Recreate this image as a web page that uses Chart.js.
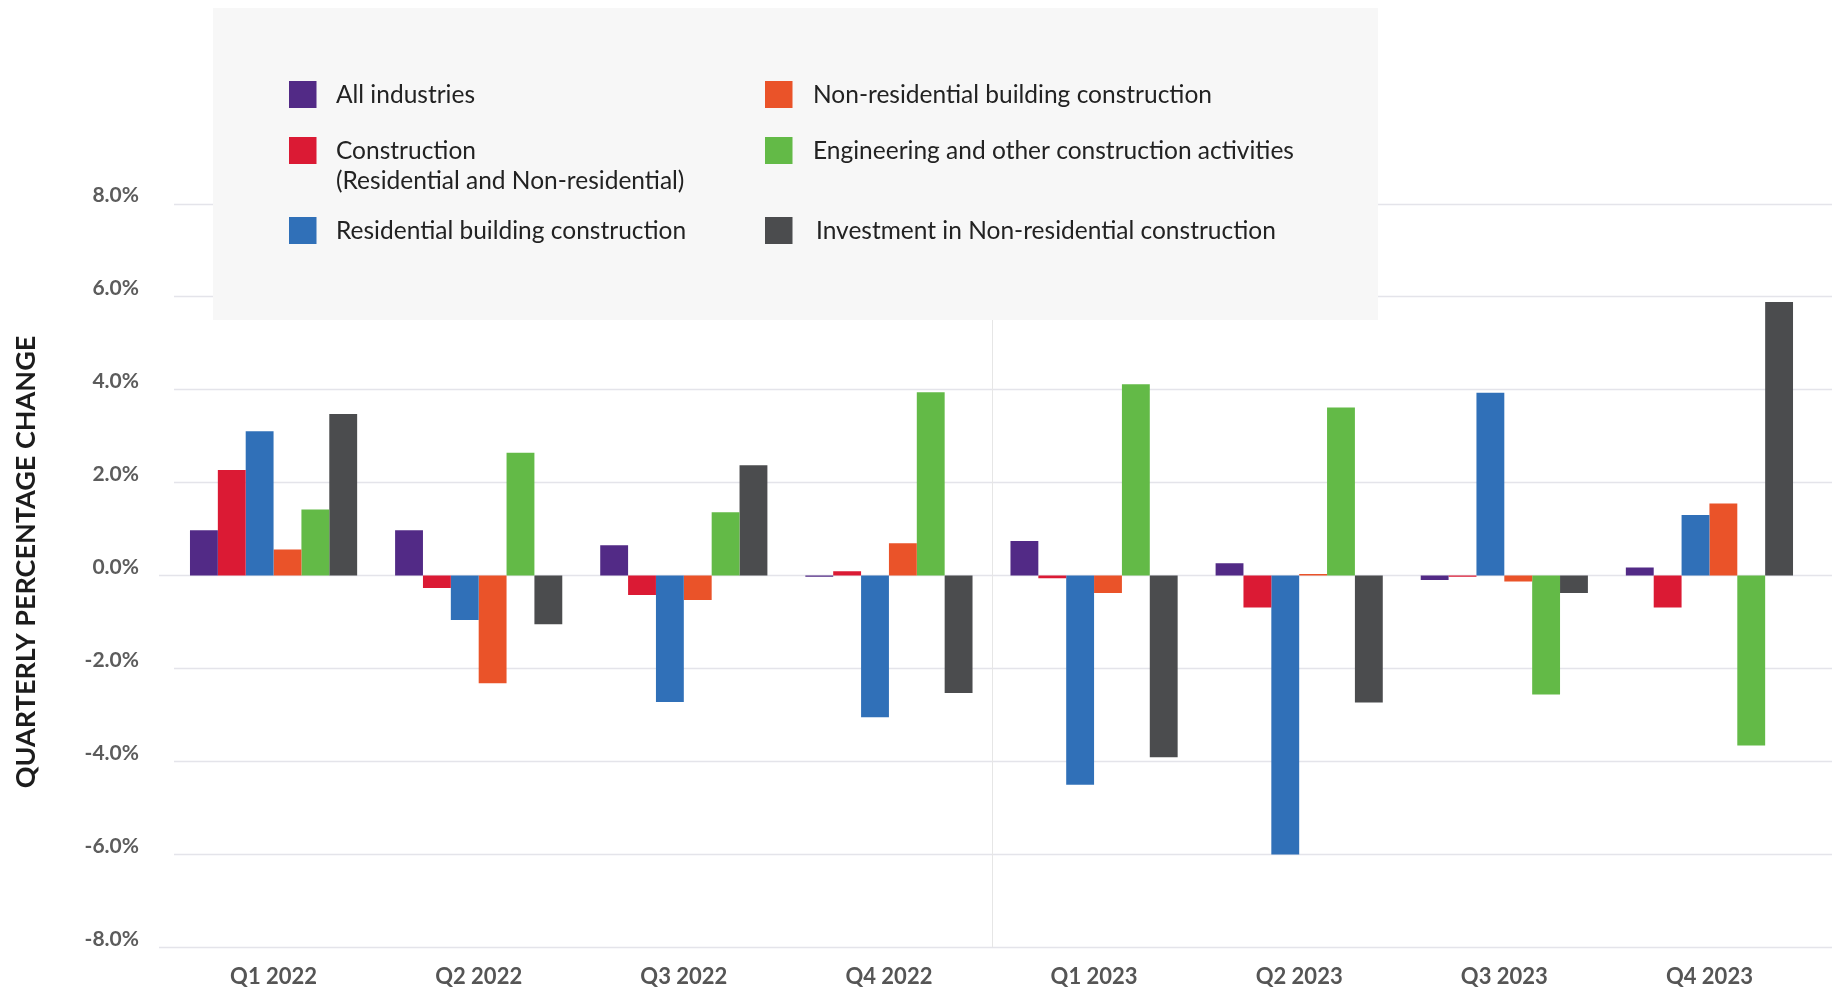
<!DOCTYPE html>
<html>
<head>
<meta charset="utf-8">
<script src="https://cdn.jsdelivr.net/npm/chart.js@4.4.0/dist/chart.umd.min.js"></script>
<style>
  html, body { margin: 0; padding: 0; background: #ffffff; }
  canvas { display: block; }
</style>
</head>
<body>
<canvas id="myChart" width="1847" height="992"></canvas>
<script>
// quarterly % change by industry
const quarters = ['Q1 2022', 'Q2 2022', 'Q3 2022', 'Q4 2022', 'Q1 2023', 'Q2 2023', 'Q3 2023', 'Q4 2023'];

const allIndustries     = [0.97, 0.97, 0.65, -0.03, 0.74, 0.26, -0.10, 0.17];
const construction      = [2.27, -0.27, -0.42, 0.09, -0.06, -0.69, -0.03, -0.69];
const residentialBldg   = [3.10, -0.96, -2.72, -3.05, -4.50, -6.00, 3.93, 1.30];
const nonResidentialBldg = [0.56, -2.32, -0.53, 0.69, -0.38, 0.03, -0.13, 1.55];
const engineering       = [1.42, 2.64, 1.36, 3.94, 4.11, 3.61, -2.56, -3.66];
const investmentNonRes  = [3.47, -1.05, 2.37, -2.53, -3.91, -2.73, -0.38, 5.88];

const seriesNames = [
    'All industries',
    ['Construction', '(Residential and Non-residential)'],
    'Residential building construction',
    'Non-residential building construction',
    'Engineering and other construction activities',
    'Investment in Non-residential construction'
];
const seriesColors = ['#522a86', '#db1a34', '#3070b8', '#ea5329', '#63ba47', '#4b4c4e'];

const yTicks = [-8, -6, -4, -2, 0, 2, 4, 6, 8];
const yTitle = 'QUARTERLY PERCENTAGE CHANGE';

const seriesData = [allIndustries, construction, residentialBldg, nonResidentialBldg, engineering, investmentNonRes];

// grid lines run a bit past the plot on both sides, plus one divider between the years
const gridPlugin = {
    id: 'customGrid',
    beforeDatasetsDraw(chart) {
        const ctx = chart.ctx;
        const y = chart.scales.y;
        const x = chart.scales.x;
        const area = chart.chartArea;
        ctx.save();
        ctx.strokeStyle = '#e4e4ea';
        ctx.lineWidth = 1.5;
        yTicks.forEach(v => {
            const py = Math.round(y.getPixelForValue(v)) + 0.5;
            const x0 = (v === 0 || v === -8) ? 159 : 174;
            ctx.beginPath();
            ctx.moveTo(x0, py);
            ctx.lineTo(1832, py);
            ctx.stroke();
        });
        const dx = Math.round((x.getPixelForTick(3) + x.getPixelForTick(4)) / 2) + 0.5;
        ctx.strokeStyle = '#e6e6e6';
        ctx.lineWidth = 1;
        ctx.beginPath();
        ctx.moveTo(dx, area.top);
        ctx.lineTo(dx, area.bottom);
        ctx.stroke();
        ctx.restore();
    }
};

// boxed two-column legend and the rotated axis title
const legendPlugin = {
    id: 'boxLegend',
    afterDraw(chart) {
        const ctx = chart.ctx;
        ctx.save();
        ctx.fillStyle = '#f7f7f7';
        ctx.fillRect(213, 8, 1165, 312);

        const colSwatch = [289, 765];
        const colText = [336, 813];
        const rowMid = [94.5, 150.5, 230.5];
        const rowBase = [102.5, 158.5, 238.5];
        ctx.font = '24.5px Lato';
        ctx.textAlign = 'left';
        ctx.textBaseline = 'alphabetic';
        chart.data.datasets.forEach((ds, i) => {
            const col = i < 3 ? 0 : 1;
            const row = i % 3;
            ctx.fillStyle = ds.backgroundColor;
            ctx.fillRect(colSwatch[col], rowMid[row] - 13.5, 27.5, 27);
            ctx.fillStyle = '#222222';
            [].concat(seriesNames[i]).forEach((line, k) => {
                const tx = colText[col] + (i === 5 ? 3 : 0);
                ctx.fillText(line, tx, rowBase[row] + k * 30);
            });
        });

        ctx.translate(26, 562);
        ctx.rotate(-Math.PI / 2);
        ctx.font = 'bold 27px Lato';
        ctx.fillStyle = '#1c1c1c';
        ctx.textAlign = 'center';
        ctx.textBaseline = 'middle';
        ctx.fillText(yTitle, 0, 0);
        ctx.restore();
    }
};

var ctx = document.getElementById('myChart').getContext('2d');
var myChart = new Chart(ctx, {
    type: 'bar',
    data: {
        labels: quarters,
        datasets: seriesData.map((values, i) => ({
            label: [].concat(seriesNames[i]).join(' '),
            data: values,
            backgroundColor: seriesColors[i],
            borderWidth: 0,
            categoryPercentage: 0.815,
            barPercentage: 1.0
        }))
    },
    options: {
        responsive: false,
        animation: false,
        devicePixelRatio: 1,
        layout: {
            padding: { top: 203.5, right: 35, left: 0, bottom: 0 }
        },
        plugins: {
            legend: { display: false },
            tooltip: { enabled: false }
        },
        scales: {
            x: {
                grid: { display: false, drawTicks: false },
                border: { display: false },
                ticks: {
                    padding: 16,
                    color: '#555555',
                    font: { family: 'Lato', size: 22, weight: 'bold' }
                },
                afterFit(scale) { scale.height = 43.5; }
            },
            y: {
                min: -8,
                max: 8,
                grid: { display: false, drawTicks: false },
                border: { display: false },
                afterBuildTicks(scale) {
                    scale.ticks = yTicks.map(v => ({ value: v }));
                },
                ticks: {
                    padding: 32,
                    labelOffset: -8,
                    color: '#5c5c5c',
                    font: { family: 'Lato', size: 21, weight: 'bold' },
                    callback: v => v.toFixed(1) + '%'
                },
                afterFit(scale) { scale.width = 171; }
            }
        }
    },
    plugins: [gridPlugin, legendPlugin]
});
</script>
</body>
</html>
